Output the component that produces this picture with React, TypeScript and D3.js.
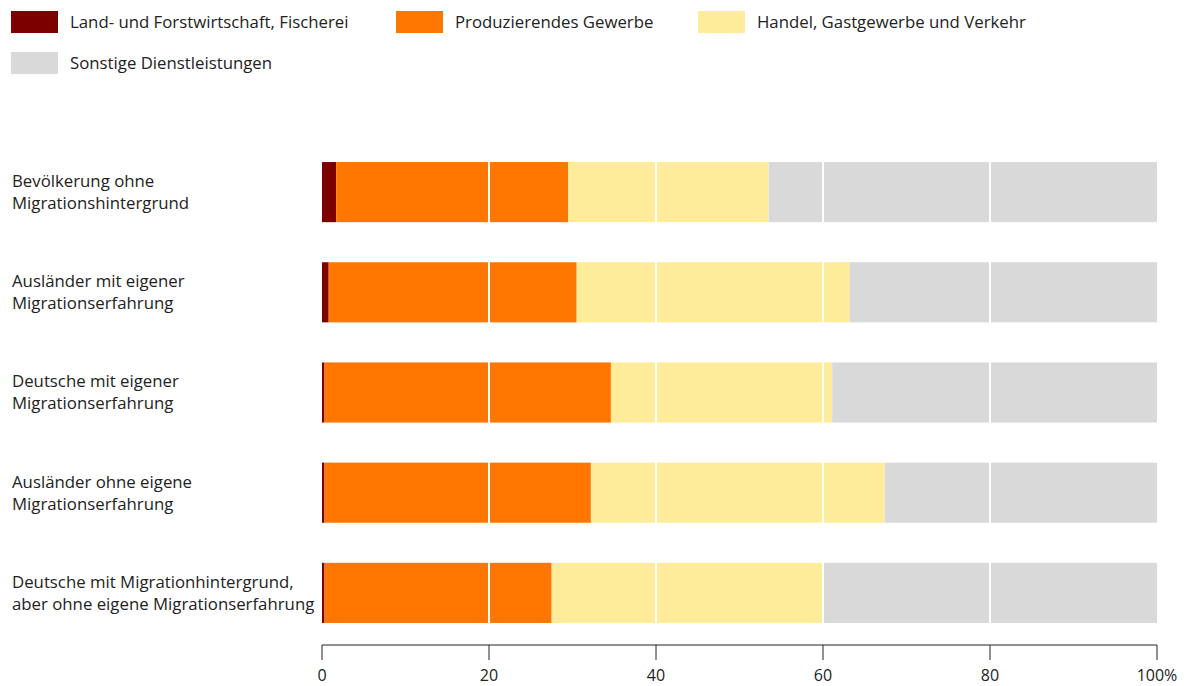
import React from "react";
import * as d3 from "d3";

const categories = [
  ["Bevölkerung ohne", "Migrationshintergrund"],
  ["Ausländer mit eigener", "Migrationserfahrung"],
  ["Deutsche mit eigener", "Migrationserfahrung"],
  ["Ausländer ohne eigene", "Migrationserfahrung"],
  ["Deutsche mit Migrationhintergrund,", "aber ohne eigene Migrationserfahrung"],
];
const seriesNames = [
  "Land- und Forstwirtschaft, Fischerei",
  "Produzierendes Gewerbe",
  "Handel, Gastgewerbe und Verkehr",
  "Sonstige Dienstleistungen",
];
const land = [1.7, 0.8, 0.3, 0.3, 0.3];
const produz = [27.8, 29.7, 34.3, 31.9, 27.2];
const handel = [24.0, 32.7, 26.5, 35.2, 32.5];
const sonstige = [46.5, 36.8, 38.9, 32.6, 40.0];
const colors = ["#7d0000", "#ff7600", "#ffec9a", "#d9d9d9"];
const ticks = [0, 20, 40, 60, 80, 100];

const FONT = "'Open Sans', 'Noto Sans', sans-serif";

export default function App() {
  const W = 1198, H = 686;
  const x = d3.scaleLinear().domain([0, 100]).range([322, 1157]);
  const y = d3.scaleBand<number>().domain(d3.range(categories.length)).range([142, 643]).paddingInner(0.4).paddingOuter(0.2);
  const table = categories.map((c, i) => ({ i, a: land[i], b: produz[i], c: handel[i], d: sonstige[i] }));
  const stack = d3.stack<any>().keys(["a", "b", "c", "d"])(table);
  const axisY = 645;
  const legendPos = [
    [10, 8], [395, 8], [697, 8], [10, 49],
  ];
  const fs = 16.8;
  return (
    <svg width={W} height={H} style={{ display: "block", position: "absolute", left: 0, top: 0 }} fontFamily={FONT}>
      <rect width={W} height={H} fill="#fff" />
      {seriesNames.map((n, k) => (
        <g key={n} transform={`translate(${legendPos[k][0]},${legendPos[k][1]})`}>
          <rect x={1} y={3} width={47} height={22} fill={colors[k]} />
          <text x={60} y={14} dy="0.35em" fontSize={fs} fill="#222">{n}</text>
        </g>
      ))}
      {categories.map((c, i) => {
        const cy = (y(i) as number) + y.bandwidth() / 2;
        return (
          <text key={i} x={12} y={cy} fontSize={fs} fill="#222">
            <tspan x={12} dy="-0.3em">{c[0]}</tspan>
            <tspan x={12} dy="1.3em">{c[1]}</tspan>
          </text>
        );
      })}
      {stack.map((s, k) => (
        <g key={k} fill={colors[k]}>
          {s.map((d, i) => (
            <rect key={i} x={x(d[0])} y={y(i)} width={x(d[1]) - x(d[0])} height={y.bandwidth()} />
          ))}
        </g>
      ))}
      {ticks.filter(t => t > 0 && t < 100).map(t => (
        <line key={t} x1={x(t)} x2={x(t)} y1={(y(0) as number) - 2} y2={(y(categories.length - 1) as number) + y.bandwidth() + 2} stroke="#fff" strokeWidth={2} />
      ))}
      <line x1={x(0)} x2={x(100)} y1={axisY} y2={axisY} stroke="#222" strokeWidth={1} />
      {ticks.map(t => (
        <g key={t}>
          <line x1={x(t)} x2={x(t)} y1={axisY} y2={axisY + 15} stroke="#222" strokeWidth={1} />
          <text x={x(t)} y={axisY + 36} textAnchor="middle" fontSize={16} fill="#222">{t === 100 ? "100%" : t}</text>
        </g>
      ))}
    </svg>
  );
}
